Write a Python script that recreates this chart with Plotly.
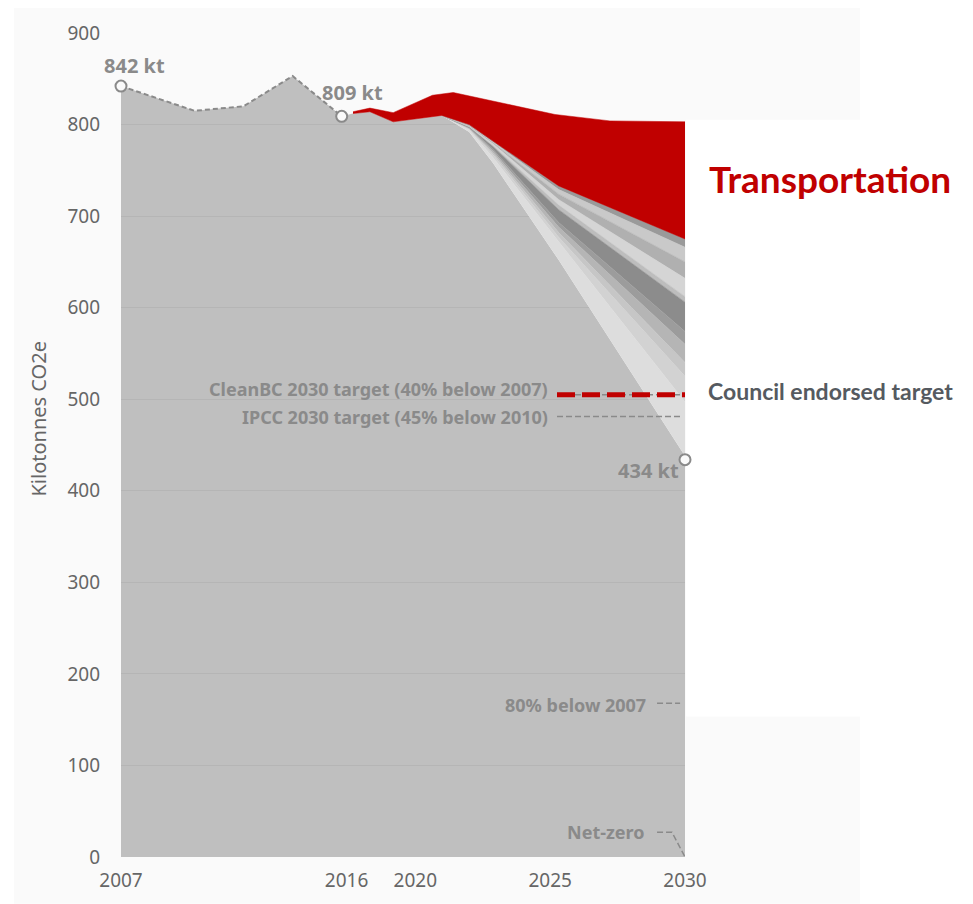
import plotly.graph_objects as go

# ---------------- data ----------------
hist_years = [2007, 2010, 2012, 2014, 2016]
hist_kt = [842, 815, 820, 853, 809]

# gray (all-sector) projection top before the fan opens
proj_years = [2016.46, 2017.15, 2018.1, 2020.09]
proj_kt = [812, 814, 803, 810]

# fan of sector reductions (top line -> bottom line)
fan_years = [2020.09, 2021.2, 2022.17, 2024.85, 2030]
fan_lines = [
    [810, 800, 782, 733, 675],
    [810, 799, 781, 729, 666],
    [810, 799, 780, 724, 650],
    [810, 798, 779, 718, 632],
    [810, 798, 777, 712, 612],
    [810, 797, 776, 707, 606],
    [810, 797, 773, 693, 574],
    [810, 796, 771, 688, 560],
    [810, 796, 769, 682, 540],
    [810, 795, 767, 677, 525],
    [810, 794, 764, 672, 497],
    [810, 792, 758, 652, 438],
]
fan_colors = ["#9a9a9a", "#c9c9c9", "#b0b0b0", "#d5d5d5", "#bdbdbd", "#8c8c8c",
              "#9c9c9c", "#b5b5b5", "#c6c6c6", "#d2d2d2", "#dddddd"]

# transportation wedge top
transp_years = [2016.46, 2017.15, 2018.1, 2019.7, 2020.55, 2024.7, 2026.94, 2030]
transp_kt = [814, 818, 813, 832, 835, 811, 804, 803]

clean_bc_kt = 505
ipcc_kt = 481
eighty_kt = 168
netzero_years = [2028.86, 2029.47, 2030]
netzero_kt = [27, 27, 0]
target_years = [2024.78, 2030.08]
ref_line_years = [2024.78, 2029.8]
short_line_years = [2028.86, 2029.8]

x_tickvals = [2007, 2016.2, 2019, 2024.5, 2030]
x_ticktext = ["2007", "2016", "2020", "2025", "2030"]
y_tickvals = [0, 100, 200, 300, 400, 500, 600, 700, 800, 900]

GRAY_TXT = "#8a8a8a"
RED = "#c00000"
FONT = "Noto Sans"

fig = go.Figure()

# base gray area (up to the lowest fan line)
base_x = hist_years + proj_years + fan_years[1:]
base_y = hist_kt + proj_kt + fan_lines[-1][1:]
fig.add_trace(go.Scatter(x=base_x, y=base_y, mode="lines", line=dict(width=0),
                         fill="tozeroy", fillcolor="rgba(128,128,128,0.48)",
                         hoverinfo="skip", showlegend=False))

# fan bands, from bottom line upwards
rev_lines = fan_lines[::-1]
rev_colors = fan_colors[::-1]
fig.add_trace(go.Scatter(x=fan_years, y=rev_lines[0], mode="lines", line=dict(width=0),
                         hoverinfo="skip", showlegend=False))
for i in range(1, len(rev_lines)):
    fig.add_trace(go.Scatter(x=fan_years, y=rev_lines[i], mode="lines",
                             line=dict(width=0.6, color=rev_colors[i - 1]),
                             fill="tonexty", fillcolor=rev_colors[i - 1],
                             hoverinfo="skip", showlegend=False))

# transportation wedge (closed polygon: top forward, gray top backward)
bottom_x = proj_years + fan_years[1:]
bottom_y = proj_kt + fan_lines[0][1:]
poly_x = transp_years + bottom_x[::-1]
poly_y = transp_kt + bottom_y[::-1]
fig.add_trace(go.Scatter(x=poly_x, y=poly_y, mode="lines", line=dict(width=0.5, color=RED),
                         fill="toself", fillcolor=RED, hoverinfo="skip", showlegend=False))

# historical dashed line
fig.add_trace(go.Scatter(x=hist_years, y=hist_kt, mode="lines",
                         line=dict(color="#8a8a8a", width=2, dash="5px,3px"),
                         hoverinfo="skip", showlegend=False))

# target lines
fig.add_trace(go.Scatter(x=ref_line_years, y=[clean_bc_kt, clean_bc_kt], mode="lines",
                         line=dict(color="#8a8a8a", width=1.5, dash="6px,3px"),
                         showlegend=False, hoverinfo="skip"))
fig.add_trace(go.Scatter(x=target_years, y=[clean_bc_kt, clean_bc_kt], mode="lines",
                         line=dict(color=RED, width=5, dash="18px,7px"),
                         showlegend=False, hoverinfo="skip", cliponaxis=False))
fig.add_trace(go.Scatter(x=ref_line_years, y=[ipcc_kt, ipcc_kt], mode="lines",
                         line=dict(color="#8a8a8a", width=1.5, dash="6px,3px"),
                         showlegend=False, hoverinfo="skip"))
fig.add_trace(go.Scatter(x=short_line_years, y=[eighty_kt, eighty_kt], mode="lines",
                         line=dict(color="#8a8a8a", width=1.5, dash="6px,3px"),
                         showlegend=False, hoverinfo="skip"))
fig.add_trace(go.Scatter(x=netzero_years, y=netzero_kt, mode="lines",
                         line=dict(color="#8a8a8a", width=1.5, dash="6px,3px"),
                         showlegend=False, hoverinfo="skip"))

# markers
fig.add_trace(go.Scatter(x=[hist_years[0], hist_years[-1], 2030], y=[hist_kt[0], hist_kt[-1], 434],
                         mode="markers", cliponaxis=False,
                         marker=dict(size=11, color="#fafafa", line=dict(color="#8a8a8a", width=2)),
                         showlegend=False, hoverinfo="skip"))

ann_font = dict(family=FONT, size=20, color=GRAY_TXT)
lbl_font = dict(family=FONT, size=18, color=GRAY_TXT)
annotations = [
    dict(x=2007.57, y=864, text="<b>842 kt</b>", font=ann_font),
    dict(x=2016.46, y=835, text="<b>809 kt</b>", font=ann_font),
    dict(x=2030.08, y=822, text="<b>797 kt</b>", font=ann_font),
    dict(x=2029.85, y=422, text="<b>434 kt</b>", xanchor="right", font=ann_font),
    dict(x=2024.5, y=511, text="<b>CleanBC 2030 target (40% below 2007)</b>",
         xanchor="right", font=lbl_font),
    dict(x=2024.5, y=481, text="<b>IPCC 2030 target (45% below 2010)</b>",
         xanchor="right", font=lbl_font),
    dict(x=2028.5, y=166, text="<b>80% below 2007</b>", xanchor="right", font=lbl_font),
    dict(x=2028.45, y=27, text="<b>Net-zero</b>", xanchor="right", font=lbl_font),
    dict(x=1.039, y=0.8235, xref="paper", yref="paper", text="<b>Transportation</b>",
         xanchor="left", font=dict(family="Lato", size=37, color=RED)),
    dict(x=1.0375, y=0.566, xref="paper", yref="paper", text="<b>Council endorsed target</b>",
         xanchor="left", font=dict(family="Lato", size=23, color="#555a60")),
    dict(x=-0.147, y=0.531, xref="paper", yref="paper", text="Kilotonnes CO2e", textangle=-90,
         xanchor="center", font=dict(family=FONT, size=20, color="#666666")),
]
for a in annotations:
    a["showarrow"] = False
    a["yanchor"] = "middle"

shapes = [
    dict(type="rect", xref="paper", yref="paper", x0=-0.1897, x1=1.3103, y0=-0.0568, y1=1.0314,
         fillcolor="#fafafa", line=dict(width=0), layer="below"),
    dict(type="rect", xref="paper", yref="paper", x0=1.0018, x1=1.5106, y0=0.1705, y1=0.8948,
         fillcolor="#ffffff", line=dict(width=0), layer="below"),
]

fig.update_layout(
    width=973, height=904,
    margin=dict(l=113, r=296, t=22, b=55),
    paper_bgcolor="#ffffff", plot_bgcolor="rgba(0,0,0,0)",
    annotations=annotations, shapes=shapes,
    showlegend=False,
    font=dict(family=FONT, color="#666666"),
)
fig.update_xaxes(range=[2007, 2030], tickvals=x_tickvals, ticktext=x_ticktext,
                 showgrid=False, zeroline=False, showline=False, ticklabelstandoff=10,
                 tickfont=dict(family=FONT, size=19, color="#666666"))
fig.update_yaxes(range=[0, 900], tickvals=y_tickvals, showgrid=True, gridcolor="#e6e6e6",
                 zeroline=False, showline=False, ticklabelstandoff=20,
                 tickfont=dict(family=FONT, size=19, color="#666666"))

fig.write_html("out.html")
